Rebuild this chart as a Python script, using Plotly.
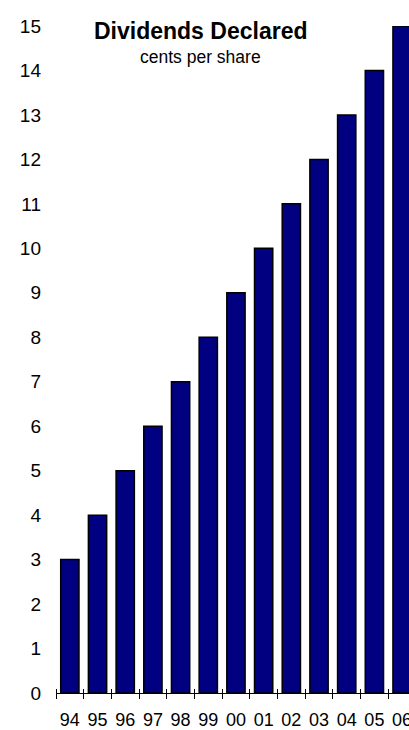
import plotly.graph_objects as go

years = ["94", "95", "96", "97", "98", "99", "00", "01", "02", "03", "04", "05", "06"]
dividends = [3, 4, 5, 6, 7, 8, 9, 10, 11, 12, 13, 14, 15]
y_ticks = list(range(0, 16))

title_text = "<b>Dividends Declared</b>"
subtitle_text = "cents per share"

FONT = "Liberation Sans, Arial, sans-serif"

fig = go.Figure()
fig.add_trace(go.Bar(
    x=years, y=dividends,
    marker=dict(color="#000080", line=dict(color="black", width=1.5)),
    hoverinfo="skip", showlegend=False, cliponaxis=True,
))
# invisible copy on an overlaid axis used only for upward tick marks
fig.add_trace(go.Bar(
    x=years, y=dividends, xaxis="x2",
    marker=dict(color="rgba(0,0,0,0)", line=dict(width=0)),
    hoverinfo="skip", showlegend=False,
))

xr = [-0.5, 12.25]
fig.update_layout(
    width=409, height=730,
    margin=dict(l=56, r=0, t=26, b=36.5),
    paper_bgcolor="white", plot_bgcolor="white",
    bargap=0.34,
    showlegend=False,
    font=dict(family=FONT, color="black", size=19),
    xaxis=dict(
        type="category", categoryorder="array", categoryarray=years,
        range=xr, autorange=False, tickson="boundaries",
        ticks="outside", ticklen=5, tickcolor="black", tickwidth=1,
        showline=True, linecolor="black", linewidth=1,
        showgrid=False, zeroline=False, automargin=False,
        tickangle=0, tickfont=dict(size=18), ticklabelstandoff=10,
    ),
    xaxis2=dict(
        type="category", categoryorder="array", categoryarray=years,
        range=xr, autorange=False, tickson="boundaries", overlaying="x",
        anchor="free", position=0, side="top", automargin=False,
        ticks="outside", ticklen=4, tickcolor="black", tickwidth=1,
        showticklabels=False, showline=False, showgrid=False, zeroline=False,
    ),
    yaxis=dict(
        range=[0, 15], autorange=False, tickvals=y_ticks, ticks="", showline=False,
        showgrid=False, zeroline=False, automargin=False,
        tickfont=dict(size=19), ticklabelstandoff=14,
    ),
    annotations=[
        dict(text=title_text, xref="paper", yref="paper", x=(200 - 56) / 353, y=1.0,
             xanchor="center", yanchor="middle", yshift=-5, showarrow=False,
             font=dict(size=23, family=FONT)),
        dict(text=subtitle_text, xref="paper", yref="paper", x=(200 - 56) / 353, y=1.0,
             xanchor="center", yanchor="middle", yshift=-31, showarrow=False,
             font=dict(size=17.5, family=FONT)),
    ],
)

fig.write_html("out.html")
